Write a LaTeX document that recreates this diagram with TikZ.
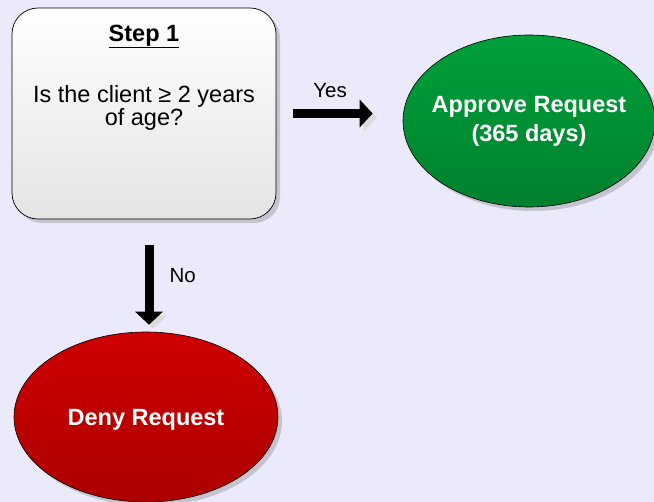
\documentclass[tikz,border=0pt]{standalone}
\usepackage{fontspec}
\setmainfont{Liberation Sans}
\usetikzlibrary{shapes.geometric,shadows,arrows.meta}

\definecolor{pagebg}{RGB}{234,234,250}
\definecolor{boxbottom}{RGB}{228,228,228}
\definecolor{okgreentop}{RGB}{0,160,58}
\definecolor{okgreenbot}{RGB}{0,128,46}
\definecolor{denyredtop}{RGB}{206,0,0}
\definecolor{denyredbot}{RGB}{172,0,0}

\tikzset{
  softshadow/.style={drop shadow={shadow xshift=4pt, shadow yshift=-4pt,
      opacity=0.16, fill=black}},
  stepbox/.style={draw=black, line width=0.7pt, rounded corners=26pt,
      top color=white, bottom color=boxbottom, inner sep=0pt,
      minimum width=264pt, minimum height=211pt, softshadow},
  outcome/.style={ellipse, draw=black, line width=0.6pt,
      inner xsep=-20pt, inner ysep=0pt,
      text=white, font=\fontsize{23.5}{29}\selectfont\bfseries,
      align=center, softshadow},
  bigarrow/.style={line width=9pt, draw=black,
      -{Triangle[length=13pt, width=27pt]},
      preaction={draw=black!14, transform canvas={shift={(4pt,-4pt)}}}},
  choice/.style={font=\fontsize{20.5}{22}\selectfont, inner sep=0pt}
}

\begin{document}
\begin{tikzpicture}[x=1pt,y=1pt]
  \fill[pagebg] (0,0) rectangle (654,-502);
  \useasboundingbox (0,0) rectangle (654,-502);

  % question box
  \node[stepbox] (step1) at (144,-113.5)
    {\parbox[c][211pt][t]{250pt}{\centering\fontsize{23.5}{21.5}\selectfont
     \vspace*{17pt}{\bfseries\underline{Step 1}}\\[36pt]
     Is the client ≥ 2 years\\ of age?}};

  % outcomes
  \node[outcome, minimum width=252pt, minimum height=172pt,
        top color=okgreentop, bottom color=okgreenbot]
    (approve) at (529,-121) {Approve Request\\(365 days)};
  \node[outcome, minimum width=264pt, minimum height=170pt,
        top color=denyredtop, bottom color=denyredbot, text depth=0pt]
    (deny) at (146,-417) {Deny Request};

  % arrows
  \draw[bigarrow, shorten <=17pt, shorten >=30pt]
    (step1.east) -- (step1.east -| approve.west)
    node[choice, pos=0.425, anchor=base, yshift=16pt] (yes) {Yes};
  \coordinate (nostart) at ([xshift=5pt]step1.south);
  \draw[bigarrow, shorten <=26pt, shorten >=7pt]
    (nostart) -- (nostart |- deny.north)
    node[choice, pos=0.558, anchor=base west, xshift=16pt] (no) {No};
\end{tikzpicture}
\end{document}
